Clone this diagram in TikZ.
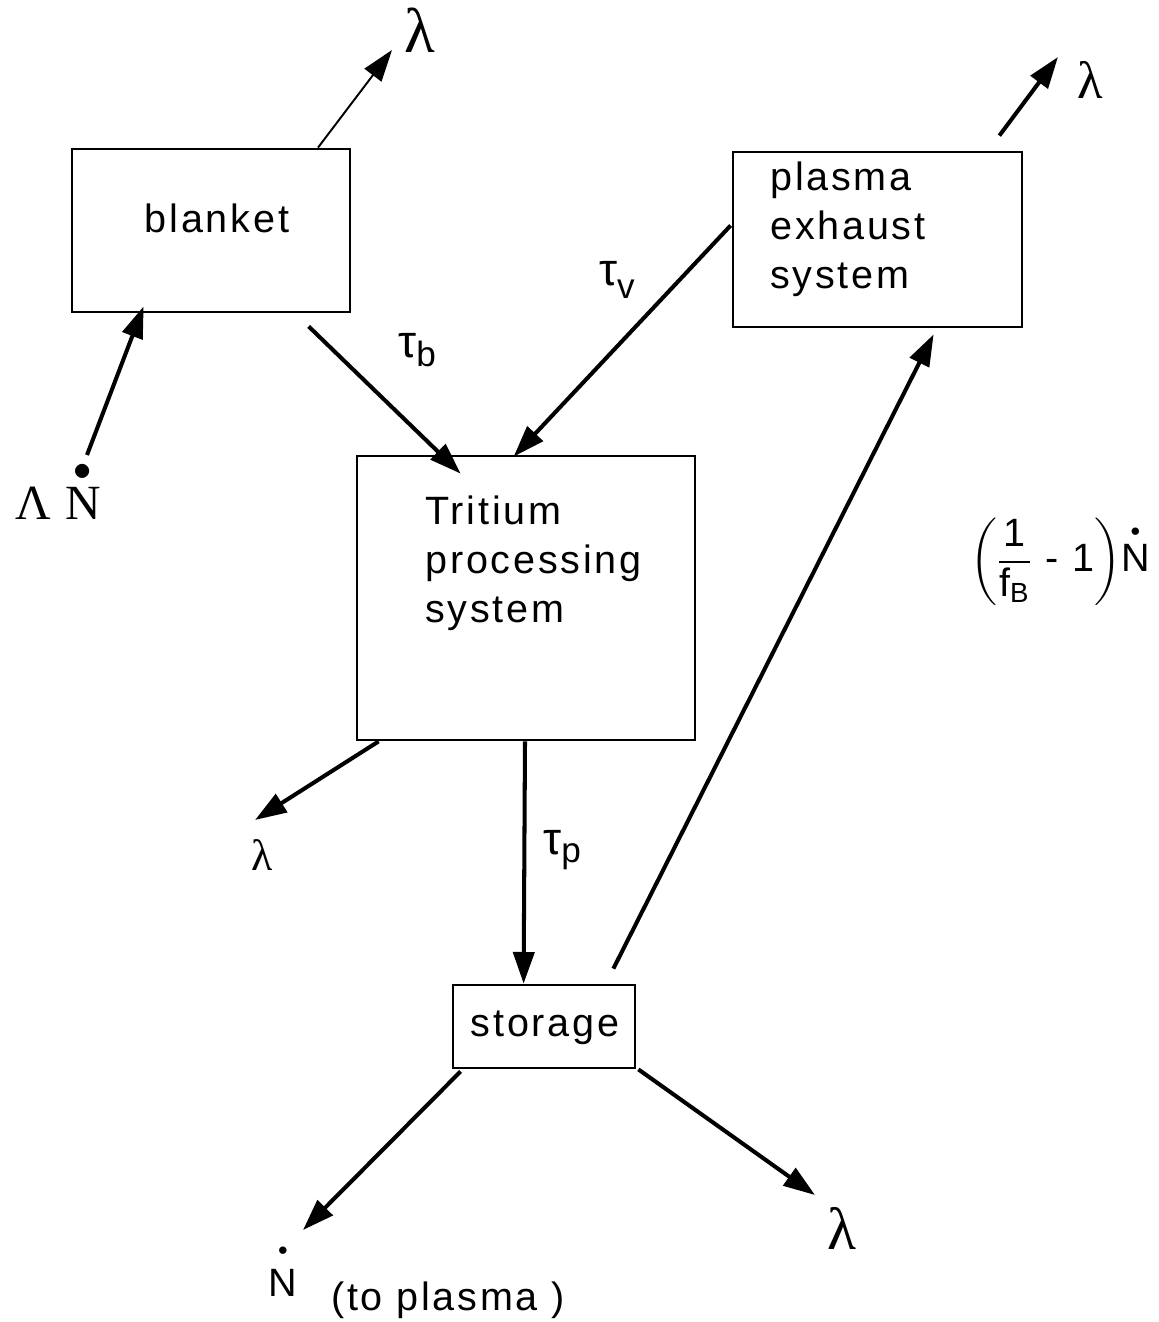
\documentclass[tikz,border=0pt]{standalone}
\usepackage{amsmath}
\usepackage{fontspec}
\setmainfont{Liberation Sans}[LetterSpace=7]
\newfontfamily\serifgr{Liberation Serif}
\usetikzlibrary{arrows.meta,calc}

\tikzset{
  box/.style={draw, line width=1.6pt, inner sep=0pt},
  flow/.style={-{Triangle[length=18pt,width=12pt]}, line width=2.3pt},
  thinflow/.style={-{Triangle[length=18pt,width=12pt]}, line width=1.1pt},
  txt/.style={font=\fontsize{22.5}{28}\selectfont, align=left, inner sep=0pt},
  sym/.style={font=\fontsize{26}{30}\selectfont, inner sep=0pt},
}

\begin{document}
\begin{tikzpicture}[x=0.02cm, y=-0.02cm]
  \useasboundingbox (0,0) rectangle (1159,1322);

  % boxes
  \node[box, minimum width=5.56cm, minimum height=3.26cm] (blanket) at (211,230.5) {};
  \node[box, minimum width=5.78cm, minimum height=3.5cm] (pes) at (877.5,239.5) {};
  \node[box, minimum width=6.76cm, minimum height=5.68cm] (tps) at (526,598) {};
  \node[box, minimum width=3.64cm, minimum height=1.66cm] (storage) at (544,1026.5) {};

  % box texts
  \node[txt] (blanket-txt) at (217,218) {blanket};
  \node[txt, anchor=west] (pes-txt) at (770,229) {plasma\\exhaust\\system};
  \node[txt, anchor=west] (tps-txt) at (425,563) {Tritium\\processing\\system};
  \node[txt] (storage-txt) at (545,1028) {storage};

  % free ends
  \coordinate (lamA) at (392,50);
  \coordinate (lamB) at (1058,57);
  \coordinate (lamC) at (255,820);
  \coordinate (lamD) at (815,1195);
  \coordinate (src) at (87,455);
  \coordinate (nout) at (303,1230);

  % labels
  \node[sym, font=\fontsize{36}{40}\selectfont\serifgr] (lamA-lbl) at (420,30) {λ};
  \node[sym, font=\fontsize{30}{34}\selectfont\serifgr] (lamB-lbl) at (1090,80) {λ};
  \node[sym, font=\fontsize{25}{30}\selectfont\serifgr] (lamC-lbl) at (262,855) {λ};
  \node[sym, font=\fontsize{34}{38}\selectfont\serifgr] (lamD-lbl) at (842,1228) {λ};
  \node[sym, font=\fontsize{28}{32}\selectfont\serifgr] (src-lbl) at (58,490) {Λ\hspace{8pt}$\overset{\raisebox{-1pt}{$\scriptstyle\bullet$}}{\text{N}}$};
  \node[sym] (taub) at (417,350) {τ\raisebox{-5pt}{\fontsize{20}{24}\selectfont b}};
  \node[sym] (tauv) at (617,280) {τ\raisebox{-7pt}{\fontsize{20}{24}\selectfont v}};
  \node[sym] (taup) at (562,850) {τ\raisebox{-5pt}{\fontsize{20}{24}\selectfont p}};
  \node[txt] (nout-lbl) at (283,1270) {$\overset{\raisebox{4pt}{$\scriptscriptstyle\bullet$}}{\text{N}}$};
  \node[txt] (plasma-lbl) at (448,1300) {(to plasma )};
  \node[txt] (recycle) at (1060,562) {$\left(\dfrac{\text{1}}{\text{f}_{\text{B}}}\text{ - 1}\right)\!\overset{\scriptscriptstyle\bullet}{\text{N}}$};

  % flows
  \draw[thinflow] ($(blanket.north)+(107,0)$) -- (lamA);
  \draw[flow] ($(pes.north east)+(-24,-15)$) -- (lamB);
  \draw[flow] (src) -- ($(blanket.south west)+(73,-7)$);
  \draw[flow] ($(blanket.south west)+(238,13)$) -- ($(tps.north west)+(105,19)$);
  \draw[flow] ($(pes.west)+(-1,-14)$) -- ($(tps.north west)+(158,2)$);
  \draw[flow] ($(tps.south west)+(23,0)$) -- (lamC);
  \draw[flow] ($(tps.south)+(-1,0)$) -- ($(storage.north west)+(72,0)$);
  \draw[flow] ($(storage.north east)+(-23,-15)$) -- ($(pes.south west)+(202,6)$);
  \draw[flow] ($(storage.south west)+(9,2)$) -- (nout);
  \draw[flow] ($(storage.south east)+(2,0)$) -- (lamD);
\end{tikzpicture}
\end{document}
